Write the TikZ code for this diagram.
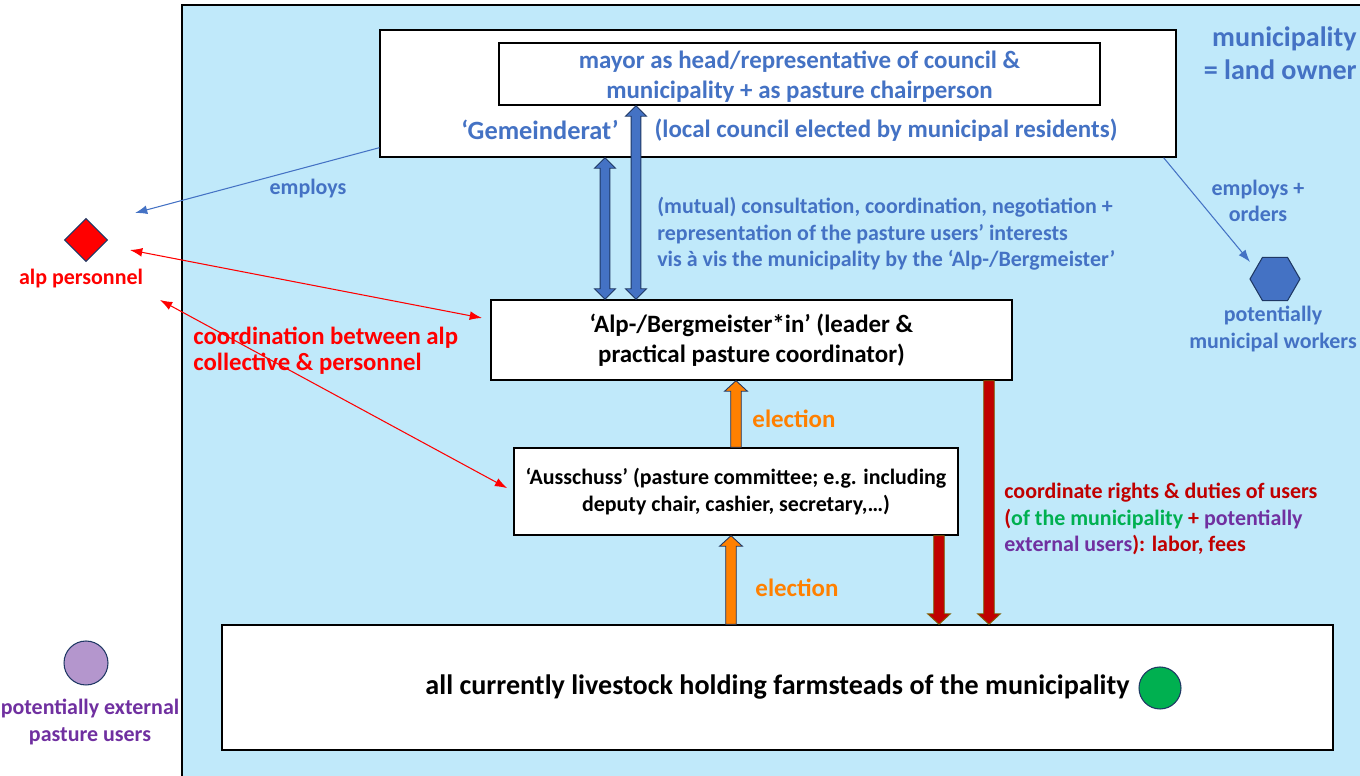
\documentclass[tikz,border=0pt]{standalone}
\usepackage{fontspec}
\setmainfont{Carlito}
\usetikzlibrary{arrows.meta,shapes.geometric,calc}

\definecolor{bgblue}{RGB}{192,233,250}
\definecolor{txtblue}{RGB}{68,114,196}
\definecolor{navy}{RGB}{31,56,100}
\definecolor{elecorange}{RGB}{255,128,0}
\definecolor{dred}{RGB}{192,0,0}
\definecolor{arrolive}{RGB}{127,96,0}
\definecolor{usergreen}{RGB}{0,176,80}
\definecolor{extpurple}{RGB}{112,48,160}
\definecolor{lilac}{RGB}{180,150,205}

% vertical block arrows: style, tail, tip
\newcommand{\blockarrow}[3]{%
  \filldraw[#1] let \p1=(#2), \p2=(#3), \n1={ifthenelse(\y2>\y1,6,-6)} in
    ({\x1-3pt},{\y1}) -- ({\x1-3pt},{\y2-\n1*1pt}) -- ({\x1-6.5pt},{\y2-\n1*1pt}) -- ({\x1},{\y2})
    -- ({\x1+6.5pt},{\y2-\n1*1pt}) -- ({\x1+3pt},{\y2-\n1*1pt}) -- ({\x1+3pt},{\y1}) -- cycle;}
\newcommand{\dblockarrow}[3]{%
  \filldraw[#1] let \p1=(#2), \p2=(#3), \n1={ifthenelse(\y2>\y1,6,-6)} in
    ({\x1-2.8pt},{\y1+\n1*1pt}) -- ({\x1-2.8pt},{\y2-\n1*1pt}) -- ({\x1-6pt},{\y2-\n1*1pt}) -- ({\x1},{\y2})
    -- ({\x1+6pt},{\y2-\n1*1pt}) -- ({\x1+2.8pt},{\y2-\n1*1pt}) -- ({\x1+2.8pt},{\y1+\n1*1pt})
    -- ({\x1+6pt},{\y1+\n1*1pt}) -- ({\x1},{\y1}) -- ({\x1-6pt},{\y1+\n1*1pt}) -- cycle;}

\begin{document}
\begin{tikzpicture}[x=0.02cm, y=-0.02cm,
  box/.style = {draw, fill=white, line width=0.8pt, inner sep=0pt},
  txt/.style = {font=\fontsize{14.2}{17}\selectfont\bfseries, align=center, inner sep=0pt},
  small/.style = {font=\fontsize{12.5}{15}\selectfont\bfseries},
  thinarrow/.style = {line width=0.6pt, -{Latex[length=7pt,width=5pt]}},
  redarrow/.style = {red, line width=0.6pt, {Latex[length=7pt,width=5pt]}-{Latex[length=7pt,width=5pt]}},
  blueblk/.style = {fill=txtblue, draw=navy, line width=0.5pt},
  orangeblk/.style = {fill=elecorange, draw=navy, line width=0.5pt},
  redblk/.style = {fill=dred, draw=arrolive, line width=0.5pt}]
\useasboundingbox (0,0) rectangle (1360,776);

% municipality area
\fill[bgblue] (182,5) rectangle (1360,776);
\draw[line width=0.8pt] (182,776) -- (182,5) -- (1360,5);

% boxes
\node[box, minimum width=15.92cm, minimum height=2.54cm] (council) at (778,93.5) {};
\node[box, minimum width=12.02cm, minimum height=1.24cm] (mayor) at (799.5,74) {};
\node[txt, text=txtblue] (mayortext) at (799.5,77)
  {mayor as head/representative of council \&\\municipality + as pasture chairperson};
\node[txt, text=txtblue, font=\fontsize{15}{17}\selectfont\bfseries] (gemlabel) at (540,130) {‘Gemeinderat’};
\node[txt, text=txtblue] (gemtext) at (886,130) {(local council elected by municipal residents)};
\node[box, txt, minimum width=10.42cm, minimum height=1.6cm] (alp) at (751.5,340)
  {‘Alp-/Bergmeister*in’ (leader \&\\practical pasture coordinator)};
\node[box, txt, small, minimum width=8.88cm, minimum height=1.74cm] (ausschuss) at (736,491.5)
  {‘Ausschuss’ (pasture committee; e.g. including\\deputy chair, cashier, secretary,…)};
\node[box, txt, font=\fontsize{16}{19}\selectfont\bfseries, minimum width=22.22cm, minimum height=2.5cm] (farms) at (777.5,687.5)
  {all currently livestock holding farmsteads of the municipality};

% actors
\node[diamond, draw=navy, fill=red, line width=0.6pt, minimum width=0.86cm, minimum height=0.86cm, inner sep=0pt] (personnel) at (86,240) {};
\node[txt, small, text=red] (personnellbl) at (81,279) {alp personnel};
\node[circle, draw=navy, fill=lilac, line width=0.6pt, minimum size=0.88cm, inner sep=0pt] (external) at (86,663) {};
\node[txt, font=\fontsize{12.5}{15.3}\selectfont\bfseries, text=extpurple] (externallbl) at (90,722) {potentially external\\pasture users};
\node[regular polygon, regular polygon sides=6, draw=navy, fill=txtblue, line width=0.6pt, minimum size=1cm, inner sep=0pt] (workers) at (1275,279) {};
\node[txt, small, text=txtblue] (workerslbl) at (1273,329) {potentially\\municipal workers};
\node[circle, draw=navy, fill=usergreen, line width=0.6pt, minimum size=0.84cm, inner sep=0pt] (members) at (1160,688) {};
\node[txt, text=txtblue, font=\fontsize{16}{19}\selectfont\bfseries, align=right, anchor=east] (ownerlbl) at (1357,53) {municipality\\= land owner};

% labels
\node[txt, small, text=txtblue] (employslbl) at (308,189) {employs};
\node[txt, small, text=txtblue] (orderslbl) at (1258,201) {employs +\\orders};
\node[txt, small, text=txtblue, align=left, anchor=west] (consultlbl) at (657,234)
  {(mutual) consultation, coordination, negotiation +\\representation of the pasture users’ interests\\vis à vis the municipality by the ‘Alp-/Bergmeister’};
\node[txt, text=red, font=\fontsize{14.1}{15}\selectfont\bfseries, align=left, anchor=west] (coordlbl) at (193,351)
  {coordination between alp\\collective \& personnel};
\node[txt, text=elecorange] (elec1) at (794,419) {election};
\node[txt, text=elecorange] (elec2) at (797,588) {election};
\node[txt, small, align=left, anchor=west] (dutieslbl) at (1004,519)
  {\textcolor{dred}{coordinate rights \& duties of users}\\
   \textcolor{dred}{(}\textcolor{usergreen}{of the municipality} \textcolor{dred}{+} \textcolor{extpurple}{potentially}\\
   \textcolor{extpurple}{external users}\textcolor{dred}{): labor, fees}};

% thin connectors
\coordinate (employsend) at (135,213);
\coordinate (ordersend) at (1250,262);
\coordinate (pers1) at (130,250);
\coordinate (alpin) at (482,318);
\coordinate (pers2) at (160,300);
\draw[thinarrow, txtblue] ([yshift=0.2cm]council.south west) -- (employsend);
\draw[thinarrow, txtblue] ([xshift=-0.26cm]council.south east) -- (ordersend);
\draw[redarrow] (pers1) -- (alpin);
\draw[redarrow, shorten >=4pt] (pers2) -- (ausschuss.west);

% block arrows
\coordinate (xcons) at (605,0);
\coordinate (xmayor) at (636,0);
\coordinate (xelec) at (731,0);
\coordinate (xduty1) at (939,0);
\coordinate (xduty2) at (989,0);
\dblockarrow{blueblk}{council.south -| xcons}{alp.north -| xcons}
\dblockarrow{blueblk}{mayor.south -| xmayor}{alp.north -| xmayor}
\blockarrow{orangeblk}{ausschuss.north}{alp.south -| ausschuss.north}
\blockarrow{orangeblk}{farms.north -| xelec}{ausschuss.south -| xelec}
\blockarrow{redblk}{ausschuss.south -| xduty1}{farms.north -| xduty1}
\blockarrow{redblk}{alp.south -| xduty2}{farms.north -| xduty2}
\end{tikzpicture}
\end{document}
